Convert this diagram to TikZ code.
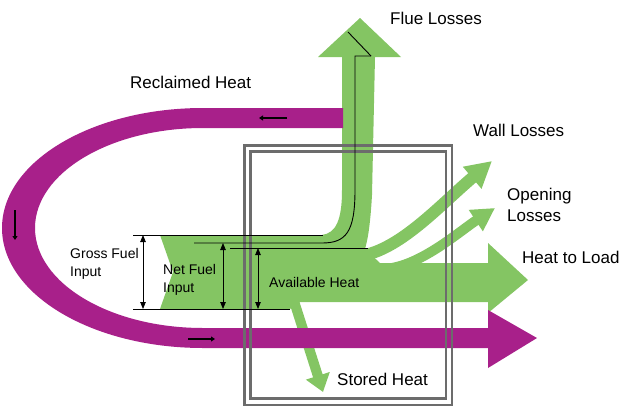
\documentclass[tikz,border=0pt]{standalone}
\usepackage{fontspec}
\setmainfont{Liberation Sans}
\usetikzlibrary{arrows.meta}
\definecolor{heatgreen}{RGB}{132,197,99}
\definecolor{reclaim}{RGB}{168,32,138}
\definecolor{wallgray}{RGB}{108,108,108}
\begin{document}
\begin{tikzpicture}[x=1pt, y=-1pt,
    heatflow/.style={fill=heatgreen, draw=none},
    branch/.style={draw=heatgreen, line width=#1},
    rcl/.style={fill=reclaim, draw=none},
    furnace/.style={draw=wallgray, line width=2.6pt},
    guide/.style={draw=black, line width=0.9pt},
    dim/.style={draw=black, line width=0.8pt, {Triangle[length=7pt,width=5.5pt]}-{Triangle[length=7pt,width=5.5pt]}},
    tick/.style={draw=black, line width=1.8pt, -{Triangle[length=4pt,width=5pt]}},
    lbl/.style={anchor=base west, inner sep=0pt, font=\fontsize{17}{21}\selectfont},
    sml/.style={anchor=west, inner sep=0pt, align=left, font=\fontsize{14}{18}\selectfont}]
  \useasboundingbox (0,0) rectangle (642,407);

  % fuel, flue and heat to load
  \fill[heatflow] (160,235) -- (322,235) .. controls (336,233) and (342,220) .. (342,190)
    -- (342,57) -- (318,57) -- (360,18) -- (401,57) -- (375,57)
    -- (372,195) .. controls (370,230) and (367,242) .. (365,249)
    -- (380,263) -- (488,263) -- (488,243) -- (528,280) -- (488,313) -- (488,302)
    -- (300,302) -- (290,309) -- (160,309) -- (173,272) -- cycle;
  \draw[branch=12pt, -{Triangle[length=26pt,width=27pt]}] (360,256) .. controls (400,250) and (440,205) .. (492,161);
  \draw[branch=10pt, -{Triangle[length=23pt,width=24pt]}] (392,268) .. controls (425,262) and (460,231) .. (495,208);
  \draw[branch=10pt, -{Triangle[length=17pt,width=24pt]}] (293,298) -- (323,392);

  % reclaimed heat loop
  \fill[rcl] (343,108) -- (203,108) arc[start angle=270, end angle=90, x radius=201, y radius=120]
    -- (488,348) -- (488,368) -- (537,338) -- (488,310) -- (488,328) -- (203,328)
    arc[start angle=90, end angle=270, x radius=168, y radius=100] -- (343,128) -- cycle;
  \draw[tick] (287,118) -- (259,118);
  \draw[tick] (15,210) -- (15,240);
  \draw[tick] (188,339) -- (215,339);

  % furnace
  \draw[furnace] (244.5,145.5) rectangle (452,405);
  \draw[furnace] (250.5,151.5) rectangle (446,398.5);

  % reference lines
  \draw[guide] (133,235) -- (323,235);
  \draw[guide] (371,56) -- (348,32);
  \draw[guide] (194,243) -- (322,243) .. controls (346,243) and (355,232) .. (355,190) -- (355,56) -- (371,56);
  \draw[guide] (230,248) -- (368,248);
  \draw[guide] (133,309) -- (290,309);

  \coordinate (gross top) at (143,235);
  \coordinate (gross bot) at (143,309);
  \coordinate (net top) at (223,243);
  \coordinate (net bot) at (223,309);
  \coordinate (avail top) at (258,248);
  \coordinate (avail bot) at (258,309);
  \draw[dim] (gross top) -- (gross bot);
  \draw[dim] (net top) -- (net bot);
  \draw[dim] (avail top) -- (avail bot);

  \node[lbl] (flue) at (390,24) {Flue Losses};
  \node[lbl] (reclaimed) at (130,88) {Reclaimed Heat};
  \node[lbl] (wall) at (473,136) {Wall Losses};
  \node[lbl, align=left, anchor=west] (opening) at (507,205) {Opening\\Losses};
  \node[lbl] (load) at (522,263) {Heat to Load};
  \node[lbl] (stored) at (337,385) {Stored Heat};
  \node[sml] (gross) at (70,264) {Gross Fuel\\Input};
  \node[sml] (net) at (163,280) {Net Fuel\\Input};
  \node[sml, anchor=base west] (avail) at (269,287) {Available Heat};
\end{tikzpicture}
\end{document}
